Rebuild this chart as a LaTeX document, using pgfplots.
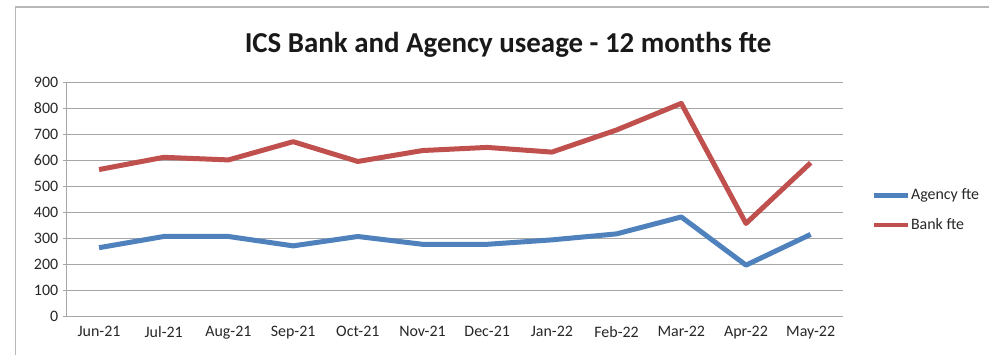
\documentclass[border=0pt]{standalone}
\usepackage{pgfplots}
\pgfplotsset{compat=1.18}
\usepackage{fontspec}
\setmainfont{Carlito}
\definecolor{agency}{HTML}{4F81BD}
\definecolor{bank}{HTML}{C0504D}
\definecolor{gridg}{HTML}{A6A6A6}
\begin{document}
\begin{tikzpicture}[x=1bp,y=1bp]
\useasboundingbox (0,0) rectangle (989,355);
\draw[gridg!80,line width=1.5bp] (15.5,0) -- (15.5,348) -- (989,348);
\node[font=\fontsize{29}{33}\selectfont\bfseries, text=black!90] at (508,310) {ICS Bank and Agency useage - 12 months fte};
\begin{axis}[
  at={(66.7bp,38.3bp)}, anchor=south west,
  scale only axis, width=776.3bp, height=234.4bp,
  xmin=-0.5, xmax=11.5, ymin=0, ymax=900,
  ytick={0,100,...,900},
  xtick={0,...,11},
  xticklabels={Jun-21,Jul-21,Aug-21,Sep-21,Oct-21,Nov-21,Dec-21,Jan-22,Feb-22,Mar-22,Apr-22,May-22},
  minor xtick={-0.5,0.5,...,11.5},
  ymajorgrids,
  grid style={gridg,line width=1.3bp},
  axis x line*=bottom, axis y line*=left,
  axis line style={gridg,line width=1.3bp},
  x axis line style={-}, y axis line style={-},
  tick align=outside,
  major tick length=4bp, minor tick length=4bp,
  xtick style={draw=none},
  minor x tick style={gridg,line width=1bp},
  ytick style={gridg,line width=1bp},
  tick label style={font=\fontsize{16}{18}\selectfont, text=black!85},
  /pgf/number format/assume math mode=true,
  xticklabel style={yshift=-2bp},
  yticklabel style={xshift=-1bp},
  legend style={at={(1.0365,0.455)}, anchor=west, draw=none, fill=none,
    font=\fontsize{16}{18}\selectfont, row sep=15bp, inner sep=0pt,
    nodes={inner sep=1bp, text=black!85}},
  legend cell align=left,
  legend image code/.code={\draw[#1,line width=4.5bp] (0bp,0bp) -- (34bp,0bp);},
]
\addplot[agency, line width=5bp, line join=round] coordinates {
(0,265) (1,308) (2,308) (3,272) (4,308) (5,278) (6,278) (7,295) (8,318) (9,383) (10,198) (11,316)};
\addlegendentry{Agency fte}
\addplot[bank, line width=5bp, line join=round] coordinates {
(0,565) (1,612) (2,602) (3,672) (4,596) (5,638) (6,650) (7,632) (8,717) (9,819) (10,358) (11,591)};
\addlegendentry{Bank fte}
\end{axis}
\end{tikzpicture}
\end{document}
